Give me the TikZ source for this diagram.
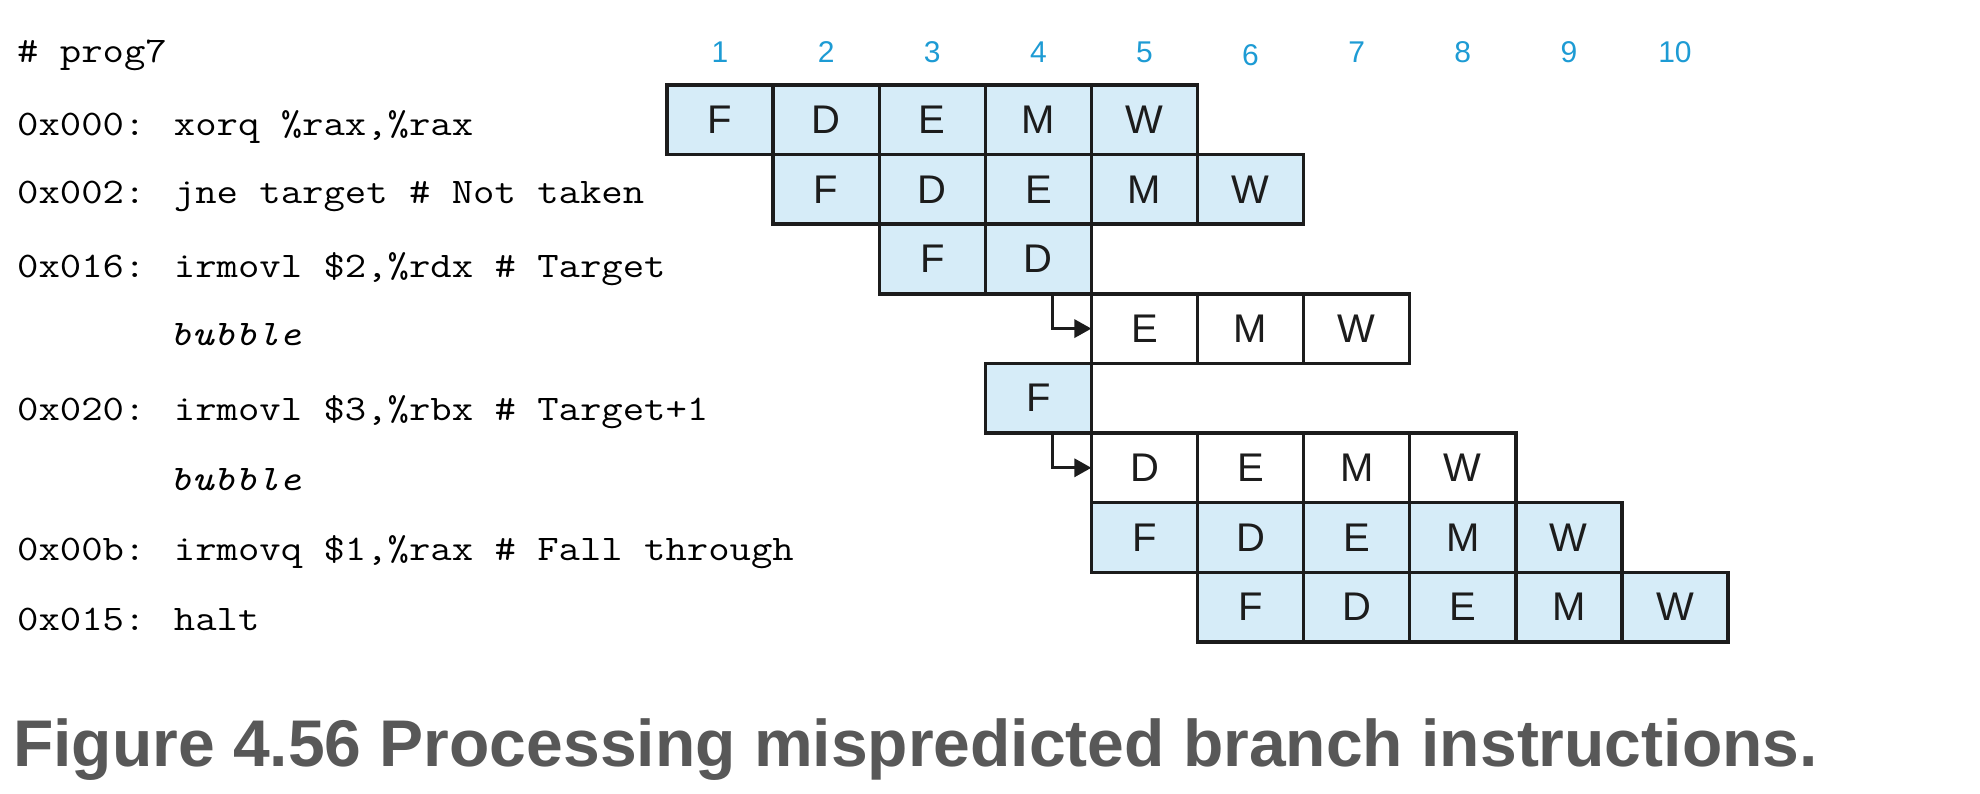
\documentclass[tikz,border=0pt]{standalone}
\usepackage{fontspec}
\setsansfont{Liberation Sans}
\usetikzlibrary{arrows.meta}
\definecolor{cellblue}{RGB}{214,236,248}
\definecolor{numblue}{RGB}{29,155,212}
\definecolor{capgray}{RGB}{88,88,88}
\definecolor{ink}{RGB}{28,28,28}
\newcommand\cx[1]{\scalebox{1.153}[1]{#1}}
\begin{document}
\begin{tikzpicture}[x=1pt,y=-1pt,
  cell/.style={draw=ink, line width=3.4pt, minimum width=106.1pt, minimum height=69.6pt,
    inner sep=0pt, outer sep=0pt, font=\sffamily\fontsize{40}{40}\selectfont, text=ink},
  bcell/.style={cell, fill=cellblue},
  wcell/.style={cell, fill=white},
  code/.style={anchor=base west, inner sep=0pt, font=\ttfamily\fontsize{36}{40}\selectfont, text=black},
  num/.style={anchor=base, inner sep=0pt, font=\sffamily\fontsize{30}{30}\selectfont, text=numblue},
  arr/.style={draw=ink, line width=3.2pt, -{Triangle[length=17pt,width=18pt]}}]
\useasboundingbox (0,0) rectangle (1980,794);
\fill[white] (0,0) rectangle (1980,794);
% cycle numbers
\foreach \c in {1,2,3,4,5,7,8,9,10}
  \node[num] (n\c) at ({667+106.1*(\c-0.5)},63) {\c};
\node[num] (n6) at ({667+106.1*5.5},66) {6};
% code lines
\node[code] (l0) at (17,63) {\cx{\# prog7}};
\node[code] (l1) at (17,136) {\cx{0x000: xorq \%rax,\%rax}};
\node[code] (l2) at (17,204) {\cx{0x002: jne target \# Not taken}};
\node[code] (l3) at (17,277) {\cx{0x016: irmovl \$2,\%rdx \# Target}};
\node[code] (l4) at (170,345) {\cx{\itshape bubble}};
\node[code] (l5) at (17,420) {\cx{0x020: irmovl \$3,\%rbx \# Target+1}};
\node[code] (l6) at (170,490) {\cx{\itshape bubble}};
\node[code] (l7) at (17,560) {\cx{0x00b: irmovq \$1,\%rax \# Fall through}};
\node[code] (l8) at (17,630) {\cx{0x015: halt}};
% pipeline cells
\foreach \r/\c/\t/\s in {
  1/1/F/bcell, 1/2/D/bcell, 1/3/E/bcell, 1/4/M/bcell, 1/5/W/bcell,
  2/2/F/bcell, 2/3/D/bcell, 2/4/E/bcell, 2/5/M/bcell, 2/6/W/bcell,
  3/3/F/bcell, 3/4/D/bcell,
  4/5/E/wcell, 4/6/M/wcell, 4/7/W/wcell,
  5/4/F/bcell,
  6/5/D/wcell, 6/6/E/wcell, 6/7/M/wcell, 6/8/W/wcell,
  7/5/F/bcell, 7/6/D/bcell, 7/7/E/bcell, 7/8/M/bcell, 7/9/W/bcell,
  8/6/F/bcell, 8/7/D/bcell, 8/8/E/bcell, 8/9/M/bcell, 8/10/W/bcell}
  \node[\s] (r\r-\c) at ({667+106.1*(\c-0.5)},{85+69.6*(\r-0.5)}) {\t};
% bubble injection arrows
\draw[arr] ([xshift=14.4pt]r3-4.south) |- (r4-5.west);
\draw[arr] ([xshift=14.4pt]r5-4.south) |- (r6-5.west);
% caption
\node[anchor=base west, inner sep=0pt, font=\sffamily\bfseries\fontsize{66}{66}\selectfont, text=capgray]
  (cap) at (13,766) {Figure 4.56 Processing mispredicted branch instructions.};
\end{tikzpicture}
\end{document}
